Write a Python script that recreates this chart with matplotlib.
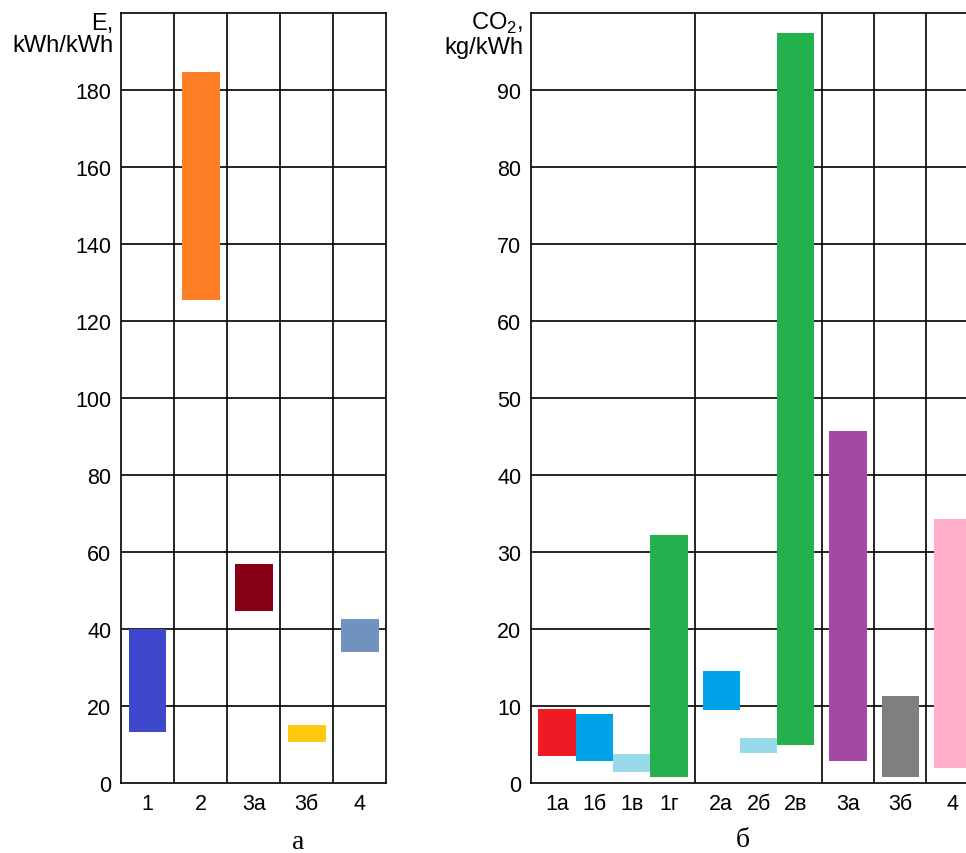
import numpy as np
import matplotlib.pyplot as plt

plt.rcParams['font.family'] = ['Liberation Sans', 'DejaVu Sans']
plt.rcParams['mathtext.fontset'] = 'custom'
plt.rcParams['mathtext.rm'] = 'Liberation Sans'

# panel a: energy, kWh/kWh
e_labels = ["1", "2", "3а", "3б", "4"]
e_low = [13.2, 125.5, 44.7, 10.6, 34.0]
e_high = [40.0, 184.7, 56.9, 15.0, 42.6]
e_colors = ["#3F48CC", "#FF7F27", "#880015", "#FFC90E", "#7092BE"]
e_groups = [1, 1, 1, 1, 1]

# panel b: CO2, kg/kWh
c_labels = ["1а", "1б", "1в", "1г", "2а", "2б", "2в", "3а", "3б", "4"]
c_low = [3.5, 2.8, 1.4, 0.8, 9.5, 3.9, 4.9, 2.8, 0.8, 2.0]
c_high = [9.6, 9.0, 3.8, 32.2, 14.5, 5.9, 97.4, 45.7, 11.3, 34.3]
c_colors = ["#ED1C24", "#00A2E8", "#99D9EA", "#22B14C", "#00A2E8",
            "#99D9EA", "#22B14C", "#A349A4", "#7F7F7F", "#FFAEC9"]
c_groups = [4, 3, 1, 1, 1]

PAD = 0.2


def layout(groups):
    centers, edges = [], [0.0]
    x = 0.0
    for n in groups:
        start = x + PAD
        for i in range(n):
            centers.append(start + i + 0.5)
        x = x + n + 2 * PAD
        edges.append(x)
    return np.array(centers), edges


def draw(ax, labels, low, high, colors, groups, ymax, ystep):
    centers, edges = layout(groups)
    low = np.array(low)
    high = np.array(high)
    ax.bar(centers, high - low, bottom=low, width=1.0, color=colors, zorder=3)
    for y in np.arange(ystep, ymax, ystep):
        ax.axhline(y, color="black", lw=1.2, zorder=1)
    for x in edges[1:-1]:
        ax.axvline(x, color="black", lw=1.2, zorder=1)
    ax.set_xlim(edges[0], edges[-1])
    ax.set_ylim(0, ymax)
    ax.set_yticks(np.arange(0, ymax, ystep))
    ax.set_xticks(centers)
    ax.set_xticklabels(labels)
    ax.tick_params(length=0, labelsize=15.5, pad=7)
    for s in ax.spines.values():
        s.set_linewidth(1.2)


fig = plt.figure(figsize=(9.66, 8.54), dpi=100)
W, H = 966, 854

ax1 = fig.add_axes([121 / W, 70 / H, 7.0 * 37.9 / W, 770 / H])
draw(ax1, e_labels, e_low, e_high, e_colors, e_groups, 200, 20)

ax2 = fig.add_axes([531 / W, 70 / H, 12.0 * 37.3 / W, 770 / H])
draw(ax2, c_labels, c_low, c_high, c_colors, c_groups, 100, 10)

fig.text(113 / W, 1 - 35 / H, "E,\nkWh/kWh", ha="right", va="center",
         fontsize=17, multialignment="right", linespacing=1.05)
fig.text(523 / W, 1 - 35 / H, "CO$_{\\mathrm{2}}$,\nkg/kWh", ha="right", va="center",
         fontsize=17, multialignment="right", linespacing=1.05)

fig.text(298 / W, 1 - 843 / H, "а", ha="center", va="center",
         fontsize=20, family="Liberation Serif")
fig.text(743 / W, 1 - 841 / H, "б", ha="center", va="center",
         fontsize=20, family="Liberation Serif")

fig.savefig("out.png", dpi=100)
